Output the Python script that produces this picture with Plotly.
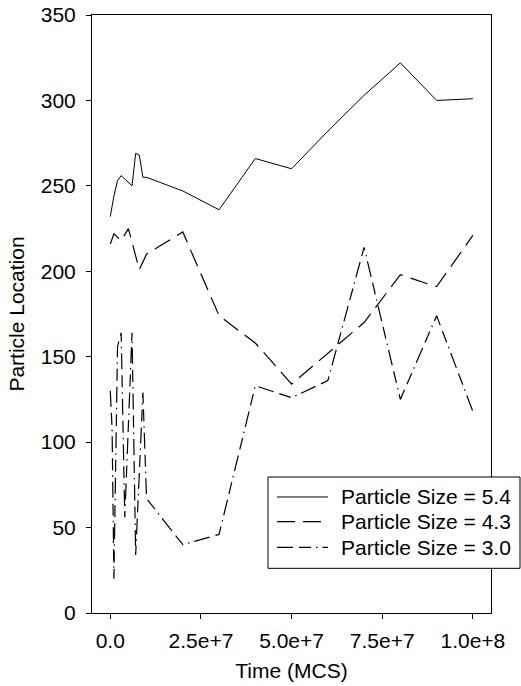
import plotly.graph_objects as go

# Time points (MCS) and particle locations for each particle size
t_54 = [0, 5e5, 1e6, 2e6, 3e6, 6e6, 7e6, 8e6, 9e6, 1e7,
        2e7, 3e7, 4e7, 5e7, 6e7, 7e7, 8e7, 9e7, 1e8]
loc_54 = [232, 238, 244, 253, 256, 250, 269, 268, 255, 255,
          247, 236, 266, 260, 282, 303, 322, 300, 301]

t_43 = [0, 1e6, 3e6, 5e6, 6e6, 8e6, 1e7,
        2e7, 3e7, 4e7, 5e7, 6e7, 7e7, 8e7, 9e7, 1e8]
loc_43 = [216, 222, 218, 225, 217, 201, 210,
          223, 174, 158, 134, 152, 170, 198, 191, 221]

t_30 = [0, 5e5, 1e6, 2e6, 3e6, 4e6, 6e6, 7e6, 9e6, 1e7,
        2e7, 3e7, 4e7, 5e7, 6e7, 7e7, 8e7, 9e7, 1e8]
loc_30 = [130, 108, 20, 156, 164, 56, 164, 34, 129, 67,
          40, 46, 133, 126, 136, 214, 125, 174, 118]

series_names = ["Particle Size = 5.4", "Particle Size = 4.3", "Particle Size = 3.0"]

x_tick_vals = [0, 2.5e7, 5e7, 7.5e7, 1e8]
x_tick_text = ["0.0", "2.5e+7", "5.0e+7", "7.5e+7", "1.0e+8"]
y_tick_vals = [0, 50, 100, 150, 200, 250, 300, 350]

FONT = "Liberation Sans, Arial, sans-serif"
FS = 21

styles = [
    dict(color="black", width=1, dash="solid"),
    dict(color="black", width=1.2, dash="18px,8px"),
    dict(color="black", width=1.2, dash="16px,6px,12px,5px,1.5px,5px"),
]

fig = go.Figure()
for t, loc, name, st in zip([t_54, t_43, t_30], [loc_54, loc_43, loc_30],
                            series_names, styles):
    fig.add_trace(go.Scatter(x=t, y=loc, mode="lines", name=name,
                             line=st, showlegend=False))

axis_common = dict(showline=True, linecolor="black", linewidth=1, mirror=True,
                   showgrid=False, zeroline=False, ticks="outside", ticklen=5,
                   tickcolor="black", automargin=False,
                   tickfont=dict(size=FS, color="black", family=FONT))

fig.update_xaxes(range=[-5.04e6, 1.05e8], tickvals=x_tick_vals, ticktext=x_tick_text,
                 ticklabelstandoff=4,
                 title=dict(text="Time (MCS)", font=dict(size=FS, family=FONT, color="black"),
                            standoff=12),
                 **axis_common)
fig.update_yaxes(range=[0, 350], tickvals=y_tick_vals, ticklabelstandoff=6,
                 title=dict(text="Particle Location", font=dict(size=FS, family=FONT, color="black"),
                            standoff=10),
                 **axis_common)

# Legend box drawn in paper coordinates (extends past the right spine)
box = dict(x0=0.4411, x1=1.0727, y0=0.0747, y1=0.2274)
fig.add_shape(type="rect", xref="paper", yref="paper", layer="above",
              line=dict(color="black", width=1), fillcolor="white", **box)
row_y = [0.194, 0.1527, 0.1099]
for yy, name, st in zip(row_y, series_names, styles):
    fig.add_shape(type="line", xref="paper", yref="paper", layer="above",
                  x0=0.4637, x1=0.5915, y0=yy, y1=yy, line=st)
    fig.add_annotation(xref="paper", yref="paper", x=0.619, y=yy, text=name,
                       showarrow=False, xanchor="left", yanchor="middle",
                       font=dict(size=FS, family=FONT, color="black"))

fig.update_layout(
    width=521, height=686,
    margin=dict(l=92, r=30, t=15, b=73),
    paper_bgcolor="white", plot_bgcolor="white",
    font=dict(family=FONT, color="black"),
    showlegend=False,
)

fig.write_html("out.html")
